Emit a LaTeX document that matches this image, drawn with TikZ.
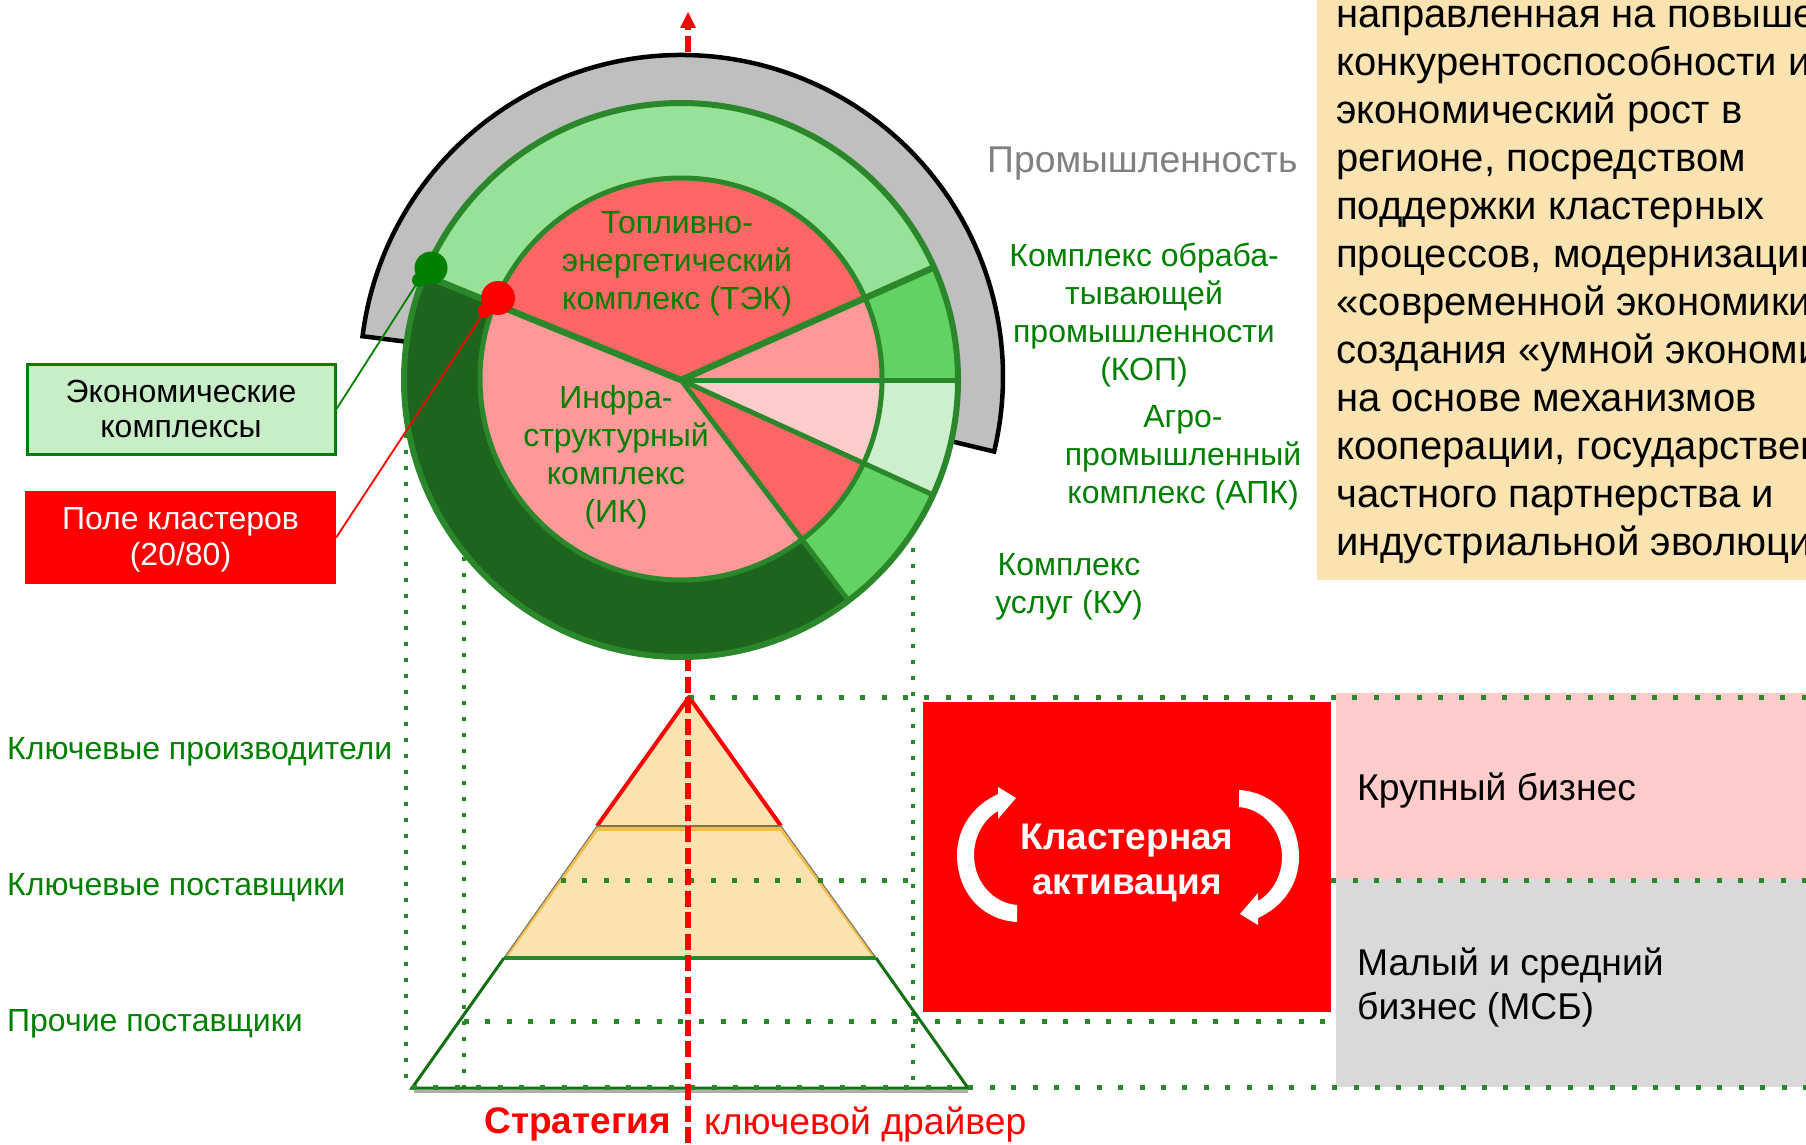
\documentclass[tikz,border=0pt]{standalone}
\usepackage{fontspec}
\setmainfont{Liberation Sans}
\usetikzlibrary{arrows.meta,calc}
\definecolor{ringline}{HTML}{2A882A}
\definecolor{lab}{HTML}{008000}
\definecolor{tan}{HTML}{FAE3B0}
\definecolor{ltg}{HTML}{98E198}
\definecolor{midg}{HTML}{62D262}
\definecolor{palg}{HTML}{CDEFCD}
\definecolor{darkg}{HTML}{1E641E}
\definecolor{r1}{HTML}{FF6666}
\definecolor{r2}{HTML}{FF9999}
\definecolor{r3}{HTML}{FFCCCC}
\definecolor{amber}{HTML}{F5BE4A}
\tikzset{
  glab/.style={text=lab,align=center,inner sep=0pt,font=\fontsize{32}{38}\selectfont},
  glabl/.style={text=lab,anchor=west,inner sep=0pt,font=\fontsize{32}{38}\selectfont},
  dotsh/.style={draw=ringline,line width=5pt,dash pattern=on 5pt off 16.4pt},
  dotsv/.style={draw=ringline,line width=4pt,dash pattern=on 4pt off 12pt},
  reddash/.style={draw=red,line width=5.5pt,dash pattern=on 16pt off 5.5pt},
  dotnode/.style={circle,inner sep=0pt,minimum size=#1},
  boxtxt/.style={align=center,inner sep=0pt,font=\fontsize{32}{35.5}\selectfont},
}
\newcommand{\sector}[4]{% from screen angle #1 to #2, radius #3, fill #4
  \fill[#4] (681,380) -- ($(681,380)+(-#1:#3)$) arc[start angle=-#1,end angle=-#2,radius=#3] -- cycle;}
\begin{document}
\begin{tikzpicture}[x=1pt,y=-1pt]
\useasboundingbox (0,0) rectangle (1806,1145);
\clip (0,0) rectangle (1806,1145);
\fill[white] (0,0) rectangle (1806,1145);
% text panel
\fill[tan] (1316.5,-5) rectangle (1811,579.5);
\node[anchor=north west,inner sep=0pt,align=left,font=\fontsize{40}{48}\selectfont] (panel) at (1336,6)
{направленная на повыше\\конкурентоспособности и\\экономический рост в\\регионе, посредством\\поддержки кластерных\\процессов, модернизации\\«современной экономики\\создания «умной экономи\\на основе механизмов\\кооперации, государствен\\частного партнерства и\\индустриальной эволюци};
% right boxes
\fill[r3] (1336,693) rectangle (1811,879);
\fill[black!15] (1336,879) rectangle (1811,1087);
% red axis upper
\draw[reddash] (688,52) -- (688,25);
\fill[red] (688,12) -- (696,28) -- (680,28) -- cycle;
\draw[reddash] (688,655) -- (688,697);
% gray ring
\filldraw[fill=black!25,draw=black,line width=4.5pt,line join=miter]
  ($(681.5,376.5)+(-172.8:270)$) -- ($(681.5,376.5)+(-172.8:321.5)$) arc[start angle=-172.8,end angle=13.5,radius=321.5] -- ($(681.5,376.5)+(13.5:270)$);
% outer ring
\sector{157.8}{24}{277}{ltg}
\sector{24}{0}{277}{midg}
\sector{0}{-24.5}{277}{palg}
\sector{-24.5}{-52.8}{277}{midg}
\sector{-52.8}{-202.2}{277}{darkg}
\sector{157.8}{24}{201}{r1}
\sector{24}{0}{201}{r2}
\sector{0}{-24.5}{201}{r3}
\sector{-24.5}{-52.8}{201}{r1}
\sector{-52.8}{-202.2}{201}{r2}
\draw[ringline,line width=6pt] (681,380) circle[radius=277];
\draw[ringline,line width=5pt] (681,379) circle[radius=201];
\draw[ringline,line width=6.5pt] (681,380) -- ($(681,380)+(-157.8:277)$);
\draw[ringline,line width=6.5pt] (681,380) -- ($(681,380)+(-24:277)$);
\draw[ringline,line width=5pt] (681,380) -- ($(681,380)+(0:277)$);
\draw[ringline,line width=5pt] (681,380) -- ($(681,380)+(24.5:277)$);
\draw[ringline,line width=5pt] (681,380) -- ($(681,380)+(52.8:277)$);
% vertical dotted
\draw[dotsv] (405.5,434) -- (405.5,1088);
\draw[dotsv] (463.5,557) -- (463.5,1088);
\draw[dotsv] (912.5,548) -- (912.5,1088);
% pyramid
\fill[tan] (689,697) -- (876,958) -- (504,958) -- cycle;
\draw[red,line width=4pt,line join=round] (597,826) -- (689,697) -- (781,826);
\draw[amber,line width=4pt] (597,829) -- (781,829);
\draw[black!50!tan,line width=1.5pt] (597,826) -- (781,826);
\draw[amber,line width=3pt] (598,828) -- (505,958);
\draw[amber,line width=3pt] (780,828) -- (875,958);
\draw[black!55,line width=1pt] (597,826) -- (504,958);
\draw[black!55,line width=1pt] (781,826) -- (876,958);
\draw[darkg!60!lab,line width=3pt] (504,958) -- (412,1088) -- (968,1088) -- (876,958);
\draw[ringline,line width=3.5pt] (504,958) -- (876,958);
\draw[black!45,line width=2.5pt,opacity=.7] (414,1091.5) -- (968,1091.5);
% horizontal dotted
\draw[dotsh] (689,697) -- (1811,697);
\draw[dotsh] (561,880) -- (1811,880);
\draw[dotsh] (464,1021) -- (1325,1021);
\draw[dotsh] (412,1087.5) -- (1811,1087.5);
% red axis lower
\draw[reddash] (688,697) -- (688,1145);
% activation box
\fill[red] (922.5,702) rectangle (1331,1012);
\foreach \r in {0,180}{
\fill[white,rotate around={\r:(1128,856)}]
  (1017,922) .. controls (982,920) and (957,892) .. (957,855)
  .. controls (957,829) and (972,806) .. (998,794) -- (998,787) -- (1016,798) -- (998,819) -- (998,811)
  .. controls (984,819) and (974,836) .. (974,855) .. controls (974,882) and (993,903) .. (1017,905) -- cycle;
}
\node[align=center,inner sep=0pt,text=white,font=\fontsize{37}{45}\selectfont\bfseries] (act) at (1127,862.5) {Кластерная\\активация};
% dots & left boxes
\node[draw=lab,line width=3pt,fill=palg!90!ltg,minimum width=308pt,minimum height=90pt,inner sep=0pt] (eco) at (181,409) {};
\node[boxtxt] (ecot) at (181,409) {Экономические\\комплексы};
\node[fill=red,minimum width=311pt,minimum height=93pt,inner sep=0pt] (pole) at (180.5,537.5) {};
\node[boxtxt,text=white] (polet) at (180.5,540) {Поле кластеров\\(20/80)};
\node[dotnode=14pt,fill=lab] (gb) at (419,280) {};
\node[dotnode=33pt,fill=lab] (gd) at (431,268) {};
\node[dotnode=14pt,fill=red] (rb) at (485,311) {};
\node[dotnode=34pt,fill=red] (rd) at (498,298) {};
\draw[lab,line width=1.8pt] (gb.center) -- (eco.east);
\draw[red,line width=1.8pt] (rb.center) -- (pole.east);
% labels
\node[anchor=west,inner sep=0pt,text=black!50,font=\fontsize{37.3}{40}\selectfont] (ind) at (987,164) {Промышленность};
\node[glab] (kop) at (1144,315) {Комплекс обраба-\\тывающей\\промышленности\\(КОП)};
\node[glab] (apk) at (1183,458) {Агро-\\промышленный\\комплекс (АПК)};
\node[glab] (ku) at (1069,587) {Комплекс\\услуг (КУ)};
\node[glab] (tek) at (677,263.5) {Топливно-\\энергетический\\комплекс (ТЭК)};
\node[glab] (ik) at (616,457) {Инфра-\\структурный\\комплекс\\(ИК)};
\node[glabl] (l1) at (7,751.5) {Ключевые производители};
\node[glabl] (l2) at (7,887.5) {Ключевые поставщики};
\node[glabl] (l3) at (7,1023.5) {Прочие поставщики};
\node[anchor=west,inner sep=0pt,align=left,font=\fontsize{37.3}{44}\selectfont] (big) at (1357,790.5) {Крупный бизнес};
\node[anchor=west,inner sep=0pt,align=left,font=\fontsize{37.3}{44}\selectfont] (sme) at (1357,987.5) {Малый и средний\\бизнес (МСБ)};
\node[anchor=east,inner sep=0pt,text=red,font=\fontsize{37}{40}\selectfont\bfseries] (st) at (671,1124.5) {Стратегия};
\node[anchor=west,inner sep=0pt,text=red,font=\fontsize{37.3}{40}\selectfont] (dr) at (704,1124.5) {ключевой драйвер};
\end{tikzpicture}
\end{document}
